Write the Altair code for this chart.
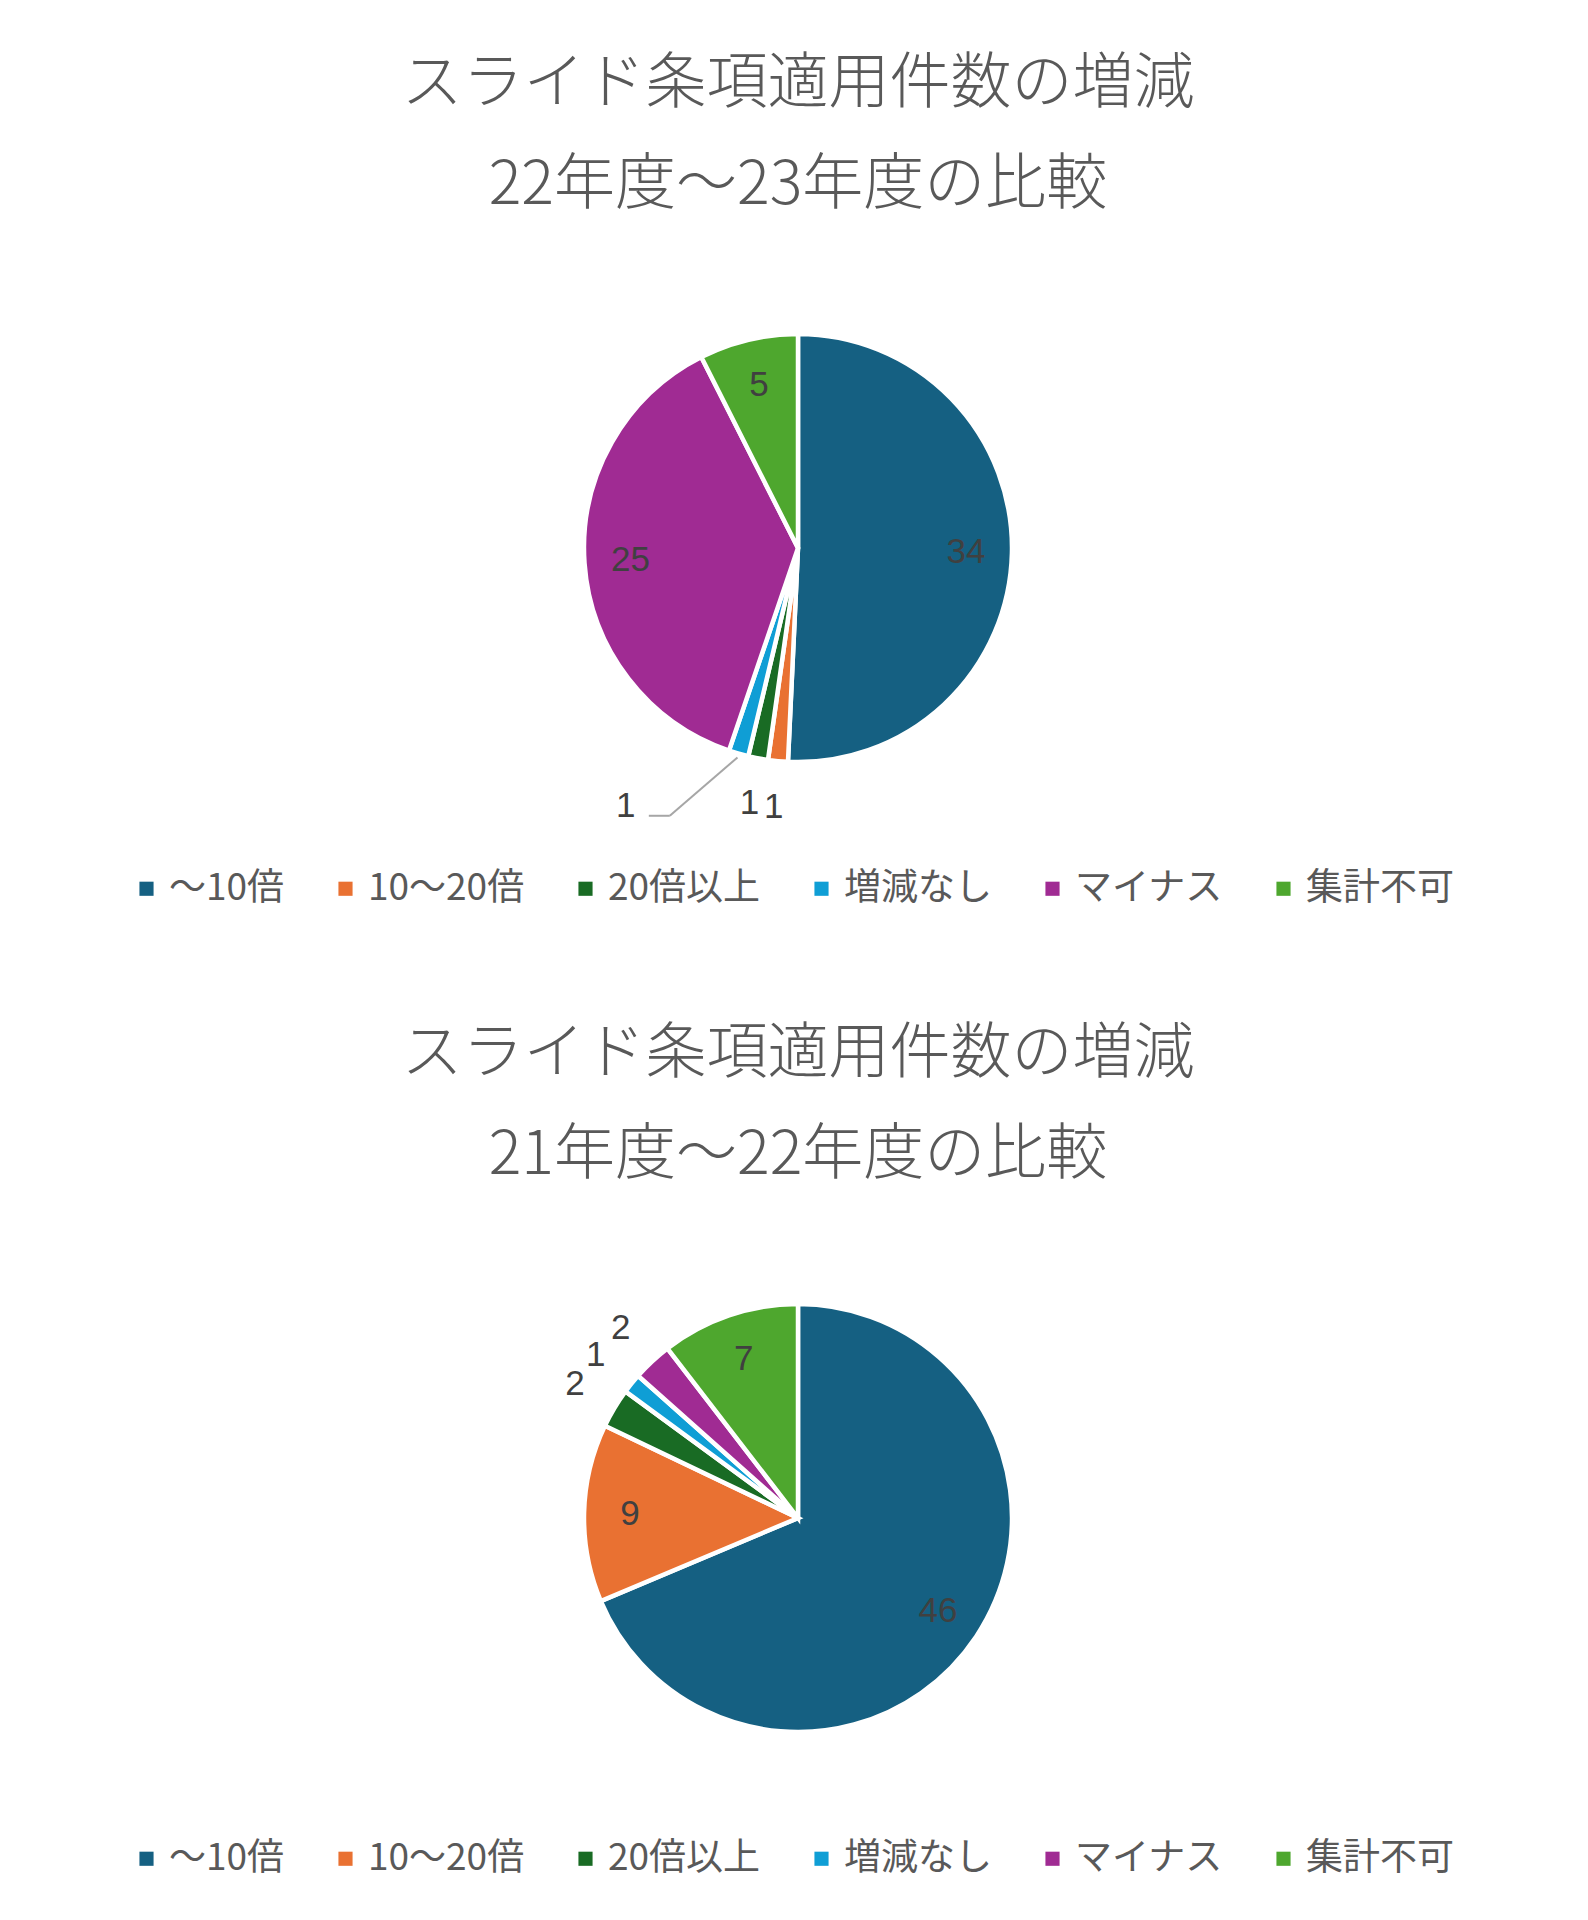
import altair as alt
import pandas as pd

categories = ["～10倍", "10～20倍", "20倍以上", "増減なし", "マイナス", "集計不可"]
colors = ["#156082", "#E97132", "#196B24", "#0F9ED5", "#A02B93", "#4EA72E"]
values_22_23 = [34, 1, 1, 1, 25, 5]
values_21_22 = [46, 9, 2, 1, 2, 7]
title_main = "スライド条項適用件数の増減"
subtitle_1 = "22年度～23年度の比較"
subtitle_2 = "21年度～22年度の比較"

JP = "Noto Sans CJK JP"
W = 1560
H = 620
R = 214
R_IN = 168
R_OUT = 260
MOVE_DX = -100
MOVE_DY = 8


def panel(values, subtitle, moved=None):
    df = pd.DataFrame({"category": categories, "value": values, "idx": list(range(len(categories)))})
    base = alt.Chart(df)
    color = alt.Color(
        "category:N",
        scale=alt.Scale(domain=categories, range=colors),
        legend=alt.Legend(
            title=None, orient="none", direction="horizontal", columns=6,
            legendX=110, legendY=H + 12,
            symbolType="square", symbolSize=200, symbolStrokeWidth=0,
            labelFont=JP, labelFontSize=37, labelColor="#595959", labelOffset=4,
            labelFontWeight="normal",
            columnPadding=42, labelLimit=400, padding=0,
        ),
    )
    arc = base.mark_arc(radius=R, stroke="white", strokeWidth=4.5).encode(
        theta=alt.Theta("value:Q", stack=True),
        color=color,
        order=alt.Order("idx:Q"),
    )
    lab = (
        base.transform_joinaggregate(total="sum(value)")
        .transform_window(cum="sum(value)", sort=[alt.SortField("idx")], frame=[None, 0])
        .transform_calculate(
            mid="(datum.cum - datum.value/2) / datum.total * 2 * PI",
            frac="datum.value / datum.total",
        )
    )
    tx = dict(font="Liberation Sans", fontSize=35, color="#404040", align="center", baseline="middle")
    inside = lab.transform_filter("datum.frac >= 0.05").mark_text(radius=R_IN, **tx).encode(
        theta=alt.Theta("mid:Q", scale=None), text="value:Q")
    cond_out = "datum.frac < 0.05"
    if moved:
        cond_out += f" && datum.category != '{moved}'"
    outside = lab.transform_filter(cond_out).mark_text(radius=R_OUT, **tx).encode(
        theta=alt.Theta("mid:Q", scale=None), text="value:Q")
    layers = [arc, inside, outside]
    if moved:
        sel = lab.transform_filter(f"datum.category == '{moved}'")
        sp = sel.mark_text(radius=R_OUT, dx=MOVE_DX, dy=MOVE_DY, **tx).encode(
            theta=alt.Theta("mid:Q", scale=None), text="value:Q")
        # leader line from the slice edge to the moved label
        lead = sel.transform_calculate(
            sx=f"{W/2} + {R + 4} * sin(datum.mid)",
            sy=f"{H/2} - {R + 4} * cos(datum.mid)",
            lx=f"{W/2} + {R_OUT} * sin(datum.mid) + {MOVE_DX}",
            ly=f"{H/2} - {R_OUT} * cos(datum.mid) + {MOVE_DY} + 10",
        ).transform_calculate(ex="datum.lx + 44", fx="datum.lx + 23")
        seg1 = lead.mark_rule(color="#A6A6A6", strokeWidth=2).encode(
            x=alt.X("sx:Q", scale=None, axis=None), y=alt.Y("sy:Q", scale=None, axis=None),
            x2="ex:Q", y2="ly:Q")
        seg2 = lead.mark_rule(color="#A6A6A6", strokeWidth=2).encode(
            x=alt.X("ex:Q", scale=None, axis=None), y=alt.Y("ly:Q", scale=None, axis=None),
            x2="fx:Q", y2="ly:Q")
        layers += [seg1, seg2, sp]
    return alt.layer(*layers).properties(
        width=W, height=H,
        title=alt.TitleParams(
            text=[title_main, subtitle], fontSize=61, lineHeight=101, font=JP,
            color="#595959", fontWeight=300, anchor="middle", offset=21,
        ),
    )


chart = (
    alt.vconcat(
        panel(values_22_23, subtitle_1, moved="増減なし"),
        panel(values_21_22, subtitle_2),
        spacing=117,
    )
    .resolve_scale(color="independent")
    .resolve_legend(color="independent")
    .configure(padding={"top": 46, "left": 10, "right": 0, "bottom": 30})
    .configure_view(stroke=None)
)

chart.save("out.html", embed_options={"renderer": "svg", "actions": False})
